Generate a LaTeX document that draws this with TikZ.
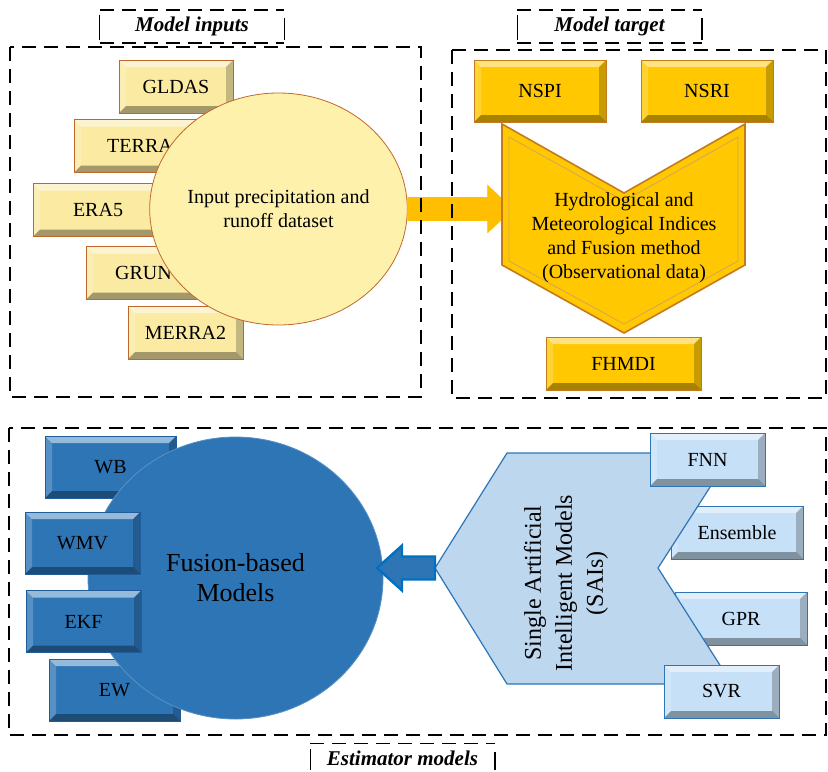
\documentclass[tikz,border=0pt]{standalone}
\usepackage{fontspec}
\setmainfont{Liberation Serif}
\usetikzlibrary{shapes.geometric,calc}

\definecolor{yfill}{HTML}{FAEAA2}
\definecolor{ycirc}{HTML}{FDF1AC}
\definecolor{ybord}{HTML}{C0682C}
\definecolor{gfill}{HTML}{FFC800}
\definecolor{gbord}{HTML}{C47A1E}
\definecolor{garrow}{HTML}{FFBE00}
\definecolor{bfill}{HTML}{2E75B6}
\definecolor{bbord}{HTML}{1F5C99}
\definecolor{lbfill}{HTML}{C6E0F7}
\definecolor{hexfill}{HTML}{BDD7EE}
\definecolor{barrow}{HTML}{0070C0}

\begin{document}
\begin{tikzpicture}[
  x=0.5pt, y=-0.5pt,
  every node/.style={font=\fontsize{10}{12}\selectfont},
  bevel/.style={path picture={
    \coordinate (bnw) at (path picture bounding box.north west);
    \coordinate (bne) at (path picture bounding box.north east);
    \coordinate (bsw) at (path picture bounding box.south west);
    \coordinate (bse) at (path picture bounding box.south east);
    \fill[white, opacity=.5] (bnw) -- (bne) -- ([shift={(-3.5pt,-3.5pt)}]bne)
      -- ([shift={(3.5pt,-3.5pt)}]bnw) -- cycle;
    \fill[white, opacity=.2] (bnw) -- ([shift={(3.5pt,-3.5pt)}]bnw)
      -- ([shift={(3.5pt,3.5pt)}]bsw) -- (bsw) -- cycle;
    \fill[black, opacity=.35] (bsw) -- ([shift={(3.5pt,3.5pt)}]bsw)
      -- ([shift={(-3.5pt,3.5pt)}]bse) -- (bse) -- cycle;
    \fill[black, opacity=.22] (bse) -- ([shift={(-3.5pt,3.5pt)}]bse)
      -- ([shift={(-3.5pt,-3.5pt)}]bne) -- (bne) -- cycle;
  }},
  ybox/.style={draw=ybord, fill=yfill, bevel, minimum height=26.5pt},
  gbox/.style={draw=gbord, fill=gfill, bevel, minimum height=31pt},
  bbox/.style={draw=bbord, fill=bfill, bevel, minimum width=57.5pt,
               minimum height=31pt},
  lbox/.style={draw=bfill, fill=lbfill, bevel, minimum height=26.5pt},
  frame/.style={draw, line width=0.6pt, dash pattern=on 7pt off 4pt},
  title/.style={minimum width=92pt, minimum height=14.5pt,
                font=\fontsize{10.5}{12}\selectfont\bfseries\itshape,
    append after command={
      (\tikzlastnode.north west) edge[frame] (\tikzlastnode.north east)
      (\tikzlastnode.south west) edge[frame] (\tikzlastnode.south east)
      ([yshift=-2.5pt]\tikzlastnode.north west)
        edge[draw, line width=0.6pt] ([yshift=1.5pt]\tikzlastnode.south west)
      ([yshift=-4pt]\tikzlastnode.north east)
        edge[draw, line width=0.6pt] ([yshift=1.5pt]\tikzlastnode.south east)}}
]
  \useasboundingbox (0,0) rectangle (828,771);

  % model inputs
  \node[ybox, minimum width=57pt] (gldas) at (176,86.5) {GLDAS};
  \node[ybox, minimum width=66pt] (terra) at (140,146) {TERRA};
  \node[ybox, minimum width=65pt] (era) at (98,210) {ERA5};
  \node[ybox, minimum width=57.5pt] (grun) at (143.5,273) {GRUN};
  \node[ybox, minimum width=57.5pt] (merra) at (185.5,332.5) {MERRA2};
  \node[ellipse, draw=ybord, fill=ycirc, minimum width=121.5pt,
        minimum height=116pt, inner sep=0pt, align=center]
    (circ) at (278.5,209) {Input precipitation and\\runoff dataset};

  \filldraw[garrow] (circ.east) ++(0,-11.5) -- ++(80,0) -- ++(0,-12)
    -- ++(25,23.5) -- ++(-25,23.5) -- ++(0,-12) -- ++(-80,0) -- cycle;

  % model target
  \node[gbox, minimum width=66pt] (nspi) at (540,91) {NSPI};
  \node[gbox, minimum width=66pt] (nsri) at (707,91) {NSRI};
  \filldraw[fill=gfill, draw=gbord, line width=0.8pt]
    (502,124) -- (624,193) -- (745,124) -- (745,265) -- (624,333)
    -- (502,265) -- cycle;
  \draw[gbord!70, line width=0.4pt]
    (509,137) -- (624,201) -- (738,137) -- (738,261) -- (624,324)
    -- (509,261) -- cycle;
  \node[align=center] (indices) at (624,238)
    {Hydrological and\\Meteorological Indices\\and Fusion method\\(Observational data)};
  \node[gbox, minimum width=77.5pt, minimum height=26.5pt] (fhmdi)
    at (623.5,363.5) {FHMDI};

  % estimator models
  \node[bbox, minimum width=65.5pt] (wb) at (110.5,467) {WB};
  \node[bbox, minimum width=65.5pt] (ew) at (114.5,690) {EW};
  \node[ellipse, fill=bfill, draw=bfill!80, minimum width=147.5pt,
        minimum height=141pt, inner sep=0pt, align=center,
        font=\fontsize{13}{15}\selectfont] (fusion) at (235.5,578)
    {Fusion-based\\Models};
  \node[bbox] (wmv) at (82.5,543) {WMV};
  \node[bbox] (ekf) at (83.5,621.5) {EKF};

  \node[lbox, minimum width=66pt] (ens) at (737,532.5) {Ensemble};
  \node[lbox, minimum width=66pt] (gpr) at (741,618.5) {GPR};
  \coordinate (saiL) at (435,568);
  \filldraw[fill=hexfill, draw=bfill, line width=0.6pt]
    (saiL) -- (507,453) -- (732,453) -- (658,568) -- (732,684)
    -- (507,684) -- cycle;
  \node[lbox, minimum width=57.5pt] (fnn) at (707.5,459.5) {FNN};
  \node[lbox, minimum width=57.5pt] (svr) at (721.5,691.5) {SVR};
  \node[rotate=90, align=center, font=\fontsize{12}{15.5}\selectfont]
    (sai) at (566,583) {Single Artificial\\Intelligent Models\\(SAIs)};

  \filldraw[fill=bfill, draw=barrow, line width=1.2pt, line join=miter]
    (saiL) ++(0,-11.5) -- ++(-33,0) -- ++(0,-11) -- ++(-25,22.5)
    -- ++(25,22.5) -- ++(0,-11) -- ++(33,0) -- cycle;

  % frames and titles
  \draw[frame] (10,47) rectangle (421,397);
  \draw[frame] (452,50) rectangle (826,398);
  \draw[frame] (9,428) rectangle (826,735);
  \node[title] (tin) at (192,26.5) {Model inputs};
  \node[title] (ttarget) at (609.5,26.5) {Model target};
  \node[title] (test) at (402.5,758.5) {Estimator models};
\end{tikzpicture}
\end{document}
